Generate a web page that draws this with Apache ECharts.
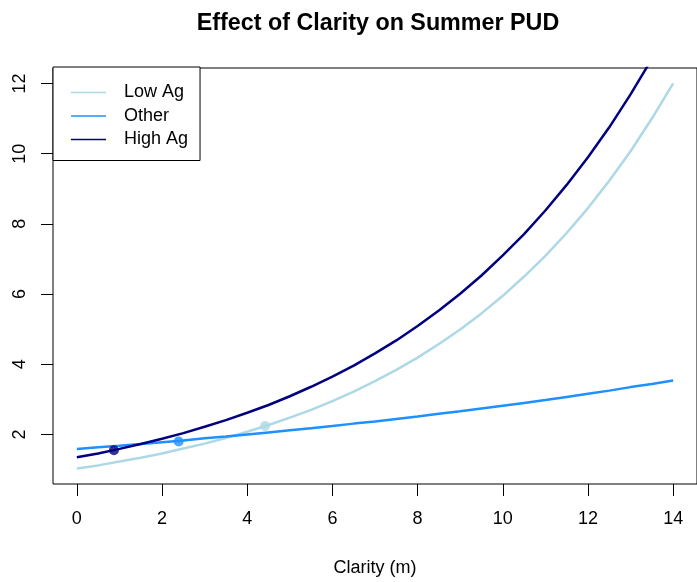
<!DOCTYPE html>
<html>
<head>
<meta charset="utf-8">
<script src="https://cdn.jsdelivr.net/npm/echarts@6/dist/echarts.min.js"></script>
<style>
  html, body { margin: 0; padding: 0; background: #fff; }
  #chart { width: 697px; height: 582px; }
</style>
</head>
<body>
<div id="chart"></div>
<script>
// Water clarity (m) at which each curve is evaluated
const clarity = [0, 0.5, 1, 1.5, 2, 2.5, 3, 3.5, 4, 4.5, 5, 5.5, 6, 6.5, 7,
                 7.5, 8, 8.5, 9, 9.5, 10, 10.5, 11, 11.5, 12, 12.5, 13, 13.5, 14];

// Predicted summer PUD per land-use group
const lowAg  = [1.03, 1.12, 1.23, 1.34, 1.46, 1.60, 1.74, 1.90, 2.08, 2.27, 2.48, 2.70, 2.95, 3.22, 3.52,
                3.84, 4.19, 4.58, 4.99, 5.45, 5.95, 6.50, 7.09, 7.74, 8.45, 9.23, 10.07, 11.00, 12.00];
const other  = [1.59, 1.64, 1.68, 1.73, 1.78, 1.83, 1.89, 1.94, 2.00, 2.06, 2.12, 2.18, 2.24, 2.31, 2.37,
                2.44, 2.51, 2.59, 2.66, 2.74, 2.82, 2.90, 2.98, 3.07, 3.16, 3.25, 3.35, 3.44, 3.54];
const highAg = [1.35, 1.46, 1.59, 1.73, 1.88, 2.04, 2.22, 2.41, 2.62, 2.84, 3.09, 3.36, 3.65, 3.96, 4.31,
                4.68, 5.09, 5.53, 6.01, 6.53, 7.10, 7.71, 8.38, 9.11, 9.90, 10.75, 11.69, 12.70, 13.80];

// Mean clarity of each group and its prediction there: [clarity, PUD]
const lowAgMean  = [4.42, 2.24];
const otherMean  = [2.39, 1.80];
const highAgMean = [0.87, 1.55];

// Tick positions
const xTicks = [0, 2, 4, 6, 8, 10, 12, 14];
const yTicks = [2, 4, 6, 8, 10, 12];

const groupNames = ['Low Ag', 'Other', 'High Ag'];
const groupColors = ['#ADD8E6', '#1E90FF', '#000080'];

const FONT = '"Liberation Sans", Arial, sans-serif';
const pairs = (ys) => clarity.map((x, i) => [x, ys[i]]);
const curves = [lowAg, other, highAg];
const means = [lowAgMean, otherMean, highAgMean];

const series = [];
curves.forEach((ys, i) => {
  series.push({
    name: groupNames[i],
    type: 'line',
    data: pairs(ys),
    showSymbol: false,
    symbol: 'none',
    smooth: false,
    clip: true,
    color: groupColors[i],
    lineStyle: { color: groupColors[i], width: 2.5 },
    z: 2 + i,
    silent: true
  });
});
means.forEach((pt, i) => {
  series.push({
    name: groupNames[i] + ' mean',
    type: 'scatter',
    data: [pt],
    symbol: 'circle',
    symbolSize: 10,
    itemStyle: { color: groupColors[i] },
    z: 10,
    silent: true
  });
});

const chart = echarts.init(document.getElementById('chart'), null, { renderer: 'canvas' });
chart.setOption({
  animation: false,
  backgroundColor: '#fff',
  title: {
    text: 'Effect of Clarity on Summer PUD',
    left: 373,
    textAlign: 'center',
    top: 7,
    textStyle: { fontFamily: FONT, fontSize: 23.3, fontWeight: 'bold', color: '#000' }
  },
  legend: {
    data: groupNames.map((n) => ({ name: n, icon: 'rect' })),
    orient: 'vertical',
    left: 53,
    top: 67,
    padding: [16.5, 12, 12, 18],
    itemWidth: 35,
    itemHeight: 1.5,
    itemGap: 5.5,
    backgroundColor: '#fff',
    borderColor: '#000',
    borderWidth: 1,
    borderRadius: 0,
    selectedMode: false,
    textStyle: { fontFamily: FONT, fontSize: 18, color: '#000', padding: [0, 0, 0, 13] }
  },
  grid: {
    left: 53, right: -1, top: 68, bottom: 97,
    show: true, borderColor: '#000', borderWidth: 1, backgroundColor: 'transparent'
  },
  xAxis: {
    type: 'value',
    min: -0.56,
    max: 14.56,
    name: 'Clarity (m)',
    nameLocation: 'middle',
    nameGap: 75,
    nameTextStyle: { fontFamily: FONT, fontSize: 18, color: '#000' },
    axisLine: { show: false, onZero: false },
    splitLine: { show: false },
    axisTick: { show: true, inside: false, length: 12, customValues: xTicks, lineStyle: { color: '#000', width: 1 } },
    axisLabel: { customValues: xTicks, margin: 26, fontFamily: FONT, fontSize: 18, color: '#000' }
  },
  yAxis: {
    type: 'value',
    min: 0.59,
    max: 12.44,
    axisLine: { show: false, onZero: false },
    splitLine: { show: false },
    axisTick: { show: true, inside: false, length: 12, customValues: yTicks, lineStyle: { color: '#000', width: 1 } },
    axisLabel: { customValues: yTicks, rotate: 90, margin: 24, fontFamily: FONT, fontSize: 18, color: '#000' }
  },
  series: series
});
</script>
</body>
</html>
